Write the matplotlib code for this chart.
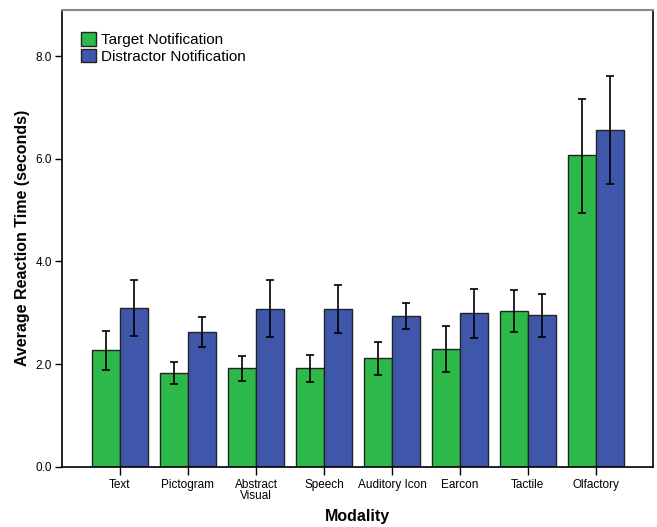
import numpy as np
import matplotlib.pyplot as plt

plt.rcParams['font.family'] = ['Liberation Sans', 'DejaVu Sans']

# Data
modalities = ['Text', 'Pictogram', 'Abstract\nVisual', 'Speech', 'Auditory Icon',
              'Earcon', 'Tactile', 'Olfactory']
target_mean = [2.27, 1.83, 1.92, 1.92, 2.11, 2.29, 3.03, 6.07]
target_lo = [1.88, 1.62, 1.68, 1.66, 1.79, 1.85, 2.63, 4.95]
target_hi = [2.65, 2.04, 2.15, 2.18, 2.44, 2.75, 3.44, 7.17]
distractor_mean = [3.09, 2.63, 3.08, 3.08, 2.94, 3.00, 2.96, 6.56]
distractor_lo = [2.54, 2.33, 2.52, 2.61, 2.68, 2.51, 2.53, 5.50]
distractor_hi = [3.63, 2.92, 3.63, 3.55, 3.20, 3.47, 3.37, 7.62]

fig = plt.figure(figsize=(6.57, 5.27), dpi=100)
ax = fig.add_axes([0.0944, 0.1144, 0.8995, 0.8666])

x = np.arange(len(modalities))
w = 0.41

t_err = [np.array(target_mean) - np.array(target_lo), np.array(target_hi) - np.array(target_mean)]
d_err = [np.array(distractor_mean) - np.array(distractor_lo), np.array(distractor_hi) - np.array(distractor_mean)]

ax.bar(x - w / 2, target_mean, w, color='#2db84a', edgecolor='#222222', linewidth=1.0,
       label='Target Notification', zorder=2)
ax.bar(x + w / 2, distractor_mean, w, color='#3f57aa', edgecolor='#222222', linewidth=1.0,
       label='Distractor Notification', zorder=2)
ax.errorbar(x - w / 2, target_mean, yerr=t_err, fmt='none', ecolor='black',
            elinewidth=1.2, capsize=3, capthick=1.2, zorder=3)
ax.errorbar(x + w / 2, distractor_mean, yerr=d_err, fmt='none', ecolor='black',
            elinewidth=1.2, capsize=3, capthick=1.2, zorder=3)

ax.set_xlim(-0.853, 7.84)
ax.set_ylim(0, 8.9)
ax.set_yticks([0, 2, 4, 6, 8])
ax.set_yticklabels(['0.0', '2.0', '4.0', '6.0', '8.0'])
ax.set_xticks(x)
ax.set_xticklabels(modalities, linespacing=0.9)
ax.tick_params(axis='both', labelsize=8.5, direction='out', length=5, width=1, pad=2)
ax.tick_params(axis='x', length=6, pad=3)

ax.spines['top'].set_color('#888888')
ax.spines['top'].set_linewidth(1.5)
for s in ['left', 'bottom', 'right']:
    ax.spines[s].set_color('black')
    ax.spines[s].set_linewidth(1.2)

ax.set_ylabel('Average Reaction Time (seconds)', fontsize=11.5, fontweight='bold', labelpad=4)
ax.set_xlabel('Modality', fontsize=11.5, fontweight='bold', labelpad=5)

ax.legend(loc='upper left', frameon=False, fontsize=11, handlelength=1.0, handleheight=1.0,
          handletextpad=0.3, labelspacing=0.1, borderaxespad=0.0,
          bbox_to_anchor=(0.022, 0.965))

fig.savefig('out.png', dpi=100)
